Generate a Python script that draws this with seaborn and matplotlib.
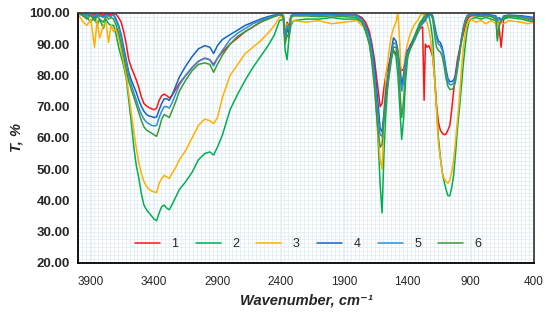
import numpy as np
import pandas as pd
import matplotlib
matplotlib.use("Agg")
import matplotlib.pyplot as plt
from matplotlib.ticker import MultipleLocator, FormatStrFormatter
import seaborn as sns

# FTIR transmittance spectra
wavenumber = [
    4000, 3960, 3930, 3900, 3870, 3850, 3830, 3800, 3780, 3760,
    3740, 3720, 3700, 3680, 3660, 3640, 3620, 3600, 3580, 3560,
    3540, 3520, 3500, 3480, 3460, 3440, 3420, 3400, 3380, 3360,
    3340, 3320, 3300, 3280, 3260, 3230, 3200, 3150, 3100, 3050,
    3000, 2960, 2930, 2900, 2860, 2800, 2740, 2680, 2620, 2560,
    2500, 2450, 2410, 2380, 2365, 2350, 2335, 2320, 2300, 2200,
    2100, 2000, 1900, 1800, 1760, 1730, 1700, 1680, 1660, 1645,
    1630, 1615, 1600, 1585, 1570, 1550, 1530, 1510, 1490, 1475,
    1460, 1445, 1430, 1415, 1400, 1380, 1360, 1340, 1320, 1300,
    1280, 1268, 1258, 1245, 1230, 1215, 1200, 1185, 1170, 1155,
    1140, 1125, 1110, 1095, 1080, 1065, 1050, 1035, 1020, 1005,
    990, 975, 960, 945, 930, 915, 900, 860, 820, 780,
    740, 700, 690, 675, 660, 640, 600, 500, 450, 400,
]

t1 = [
    100, 99.5, 99.8, 99.0, 99.6, 98.8, 99.7, 99.2, 99.8, 99.5,
    99.6, 99.8, 99.5, 98.5, 97, 94, 90, 85, 82.5, 80.5,
    78.5, 76, 73, 71, 70.2, 69.7, 69.3, 69.0, 69.5, 72,
    73.5, 74, 73.5, 72.8, 73.5, 75.5, 77.5, 80, 82.5, 84.5,
    85.5, 85, 83.5, 85.5, 87.5, 90, 92, 94, 95.5, 97,
    98.2, 99, 99.6, 99, 94, 97, 95.5, 99, 99.5, 99.5,
    99.3, 99.6, 99.2, 99.3, 98.5, 97, 94, 90, 85, 80,
    75, 70, 71, 76, 80, 83, 86, 88, 87, 86,
    83, 81.5, 82, 85, 87, 89.5, 91, 92, 93.5, 95,
    95.5, 72, 90, 89, 89.5, 88, 86, 79, 70, 65,
    62.5, 61.5, 61, 61.2, 62.5, 64, 69, 75, 80.5, 85,
    88, 90.5, 93, 95.5, 97.5, 98.5, 99, 99.3, 99, 99.4,
    99, 98.5, 98, 95, 89, 98, 99, 99, 98.5, 98,
]

t2 = [
    100, 99, 98.5, 97, 99, 96, 98, 95, 98, 96.5,
    96, 96, 93, 89, 86, 83, 79, 72, 65, 57,
    51, 47, 42, 38.5, 37, 36, 35, 34, 33.5, 36,
    38, 38.5, 37.5, 37, 38.5, 41, 43.5, 46, 49, 53,
    55, 55.5, 54.5, 57, 61, 69, 74, 78.5, 82.5, 86,
    89.5, 93, 97.5, 98, 88, 85, 92, 96, 97.5, 98,
    98, 98.5, 98, 98, 97, 94, 90, 85, 78, 70,
    58, 45, 36, 55, 68, 80, 85, 88, 86, 80,
    70, 59.5, 66, 78, 85, 89, 91, 93, 95, 97,
    98, 99, 99.5, 99.5, 99, 96, 91.5, 80, 70, 60,
    54, 49, 46, 43.5, 41.5, 41.5, 44, 48, 55, 63,
    69, 76, 83, 89, 94, 97, 98, 98.5, 98, 98.5,
    98, 97.5, 91, 96, 98, 98, 98.5, 98, 97.5, 97,
]

t3 = [
    99.5, 97, 96, 98, 89, 97.5, 92, 96, 97, 90.5,
    96, 94, 95, 92, 88, 84, 80, 74, 68, 62,
    56.5, 52, 48.5, 46, 44.5, 43.5, 43, 42.7, 42.5, 45.5,
    47, 48, 47.5, 47, 48.5, 50.5, 53, 56, 60, 64,
    66, 65.5, 64.5, 66.5, 73, 80, 83.5, 87, 89, 91,
    93.5, 96, 98.5, 99, 95, 96.5, 94, 97, 97.5, 97,
    97.5, 96.5, 97, 97.5, 96, 95, 93, 88, 80, 72,
    60, 53, 50, 66, 80, 86, 92, 95, 97, 100,
    90, 75, 80, 87, 90, 93, 95, 96.5, 97.5, 99,
    100, 99, 98, 97, 94.5, 91, 86, 79, 69, 58,
    53.5, 49, 47, 46, 45.5, 46.5, 49, 53, 59, 65.5,
    72, 81, 88, 93, 96, 97.5, 98, 97, 97.5, 96.5,
    97.5, 96.5, 97, 96, 97, 96.5, 97.5, 97, 96.5, 97,
]

t4 = [
    100, 99.6, 99, 99.5, 98.5, 99.5, 99, 98.8, 99.5, 99,
    99, 99.5, 98, 96, 93, 89, 85, 81, 78.5, 76.5,
    74.5, 72, 70, 68.5, 67.5, 67, 66.8, 66.5, 66.7, 69,
    71, 72.5, 72.5, 72, 73.5, 76.5, 79.5, 83, 86, 88.5,
    89.5, 89, 87, 89.5, 91.5, 93, 94.5, 96, 97, 98,
    98.8, 99.3, 99.7, 99.2, 91.5, 95, 93, 99, 99.5, 99.5,
    99.4, 99.5, 99.3, 99.2, 98, 96, 93, 89, 83, 77,
    70, 63, 62, 68, 75, 81, 87, 92, 91, 88,
    82, 77, 80, 85, 88, 89, 90.5, 92, 94, 96,
    97, 97.5, 98, 99, 99.5, 100, 99, 96, 93, 91,
    90.5, 89, 86, 82, 79, 78, 78, 78.5, 80, 84,
    87, 91.5, 95, 97.5, 99, 99.5, 99.5, 99.5, 99.3, 99.5,
    99.3, 99, 98, 98.5, 97.5, 99, 99.3, 99, 98.8, 98.5,
]

t5 = [
    100, 99.5, 99.2, 99.4, 98.8, 99.5, 99.2, 98.5, 99.4, 99,
    99, 99.3, 97.5, 95.5, 92, 88, 84, 80, 77, 74.5,
    72, 69.5, 67.5, 66, 65, 64.5, 64, 63.8, 64, 66.5,
    68.5, 70, 70, 69.5, 71, 74, 77, 80, 82.5, 84.5,
    85.5, 85, 83, 85.5, 88, 91.5, 93.5, 95, 96.5, 97.5,
    98.5, 99, 99.6, 99, 92.5, 96, 94.5, 99, 99.4, 99.4,
    99.3, 99.4, 99.2, 99, 97.8, 95.5, 92, 87, 80, 73,
    66, 61, 60.5, 66, 73, 79, 85, 90.5, 90, 87,
    80, 75, 78, 84, 87, 88.5, 90, 91.5, 93.5, 95.5,
    96.5, 97, 97.5, 98.5, 99, 99.5, 98.5, 95, 92, 90,
    89.5, 88, 85, 81, 78, 77, 77, 77.5, 79, 83,
    86.5, 91, 94.5, 97, 98.8, 99.3, 99.4, 99.3, 99, 99.3,
    99, 98.8, 97.5, 98.3, 97, 98.8, 99, 98.8, 98.5, 98.3,
]

t6 = [
    100, 99, 98, 99.3, 97.5, 99, 98, 97, 99, 98,
    98.5, 98, 96, 93.5, 90, 86, 82, 78, 75.5, 73,
    70.5, 68, 65.5, 63.5, 62.5, 62, 61.5, 61, 60.5, 63,
    66, 67.5, 67, 66.5, 68.5, 71.5, 75, 78.5, 81.5, 83.5,
    84, 83.5, 81, 83.5, 86.5, 90, 92.5, 94, 95.5, 97,
    98, 98.8, 99.3, 99, 90, 93, 92, 98.5, 99, 99,
    98.8, 99, 98.8, 98.5, 97, 94.5, 90, 84, 76, 68,
    62, 57, 58, 66, 72, 78, 84, 89, 89, 85,
    76, 66.5, 72, 81, 86, 88, 90, 92, 94, 96,
    97.5, 98.5, 99, 99.5, 100, 99.5, 98, 93, 89, 88,
    87.5, 86, 83, 79, 76.5, 75.5, 75.5, 76, 78, 82,
    86, 90.5, 94, 96.5, 98.5, 99, 99.2, 99, 98.8, 99,
    98.8, 98, 92, 96, 97.5, 98.5, 99, 98.5, 98, 97.5,
]

labels = ["1", "2", "3", "4", "5", "6"]
colors = ["#ff1414", "#00b050", "#ffb000", "#1565c0", "#2f8fd8", "#3a9a3a"]
x_ticks = [3900, 3400, 2900, 2400, 1900, 1400, 900, 400]

frames = []
for lab, vals in zip(labels, [t1, t2, t3, t4, t5, t6]):
    frames.append(pd.DataFrame({"wn": wavenumber, "T": vals, "sample": lab}))
df = pd.concat(frames, ignore_index=True)

sns.set_style("white")
plt.rcParams["font.family"] = ["Liberation Sans", "DejaVu Sans"]

fig = plt.figure(figsize=(5.5, 3.21), dpi=100)
ax = fig.add_axes([0.142, 0.181, 0.829, 0.779])

# fine light grid
ax.xaxis.set_minor_locator(MultipleLocator(31.25))
ax.yaxis.set_minor_locator(MultipleLocator(1.25))
ax.grid(which="both", color="#e3eef4", linewidth=0.6)
ax.set_axisbelow(True)

sns.lineplot(data=df, x="wn", y="T", hue="sample", palette=colors,
             estimator=None, linewidth=1.1, ax=ax)

ax.set_xlim(4000, 400)
ax.set_ylim(20, 100)
ax.set_xticks(x_ticks)
ax.set_yticks(np.arange(20, 101, 10))
ax.yaxis.set_major_formatter(FormatStrFormatter("%.2f"))
ax.tick_params(axis="x", which="major", direction="inout", length=7, width=1,
               labelsize=8.5, pad=6, color="black")
ax.tick_params(axis="y", which="major", direction="out", length=3, width=1,
               labelsize=9.5, pad=3, color="black")
ax.tick_params(which="minor", length=0)
for t in ax.get_yticklabels():
    t.set_fontweight("bold")

for side in ["left", "bottom"]:
    ax.spines[side].set_color("black")
    ax.spines[side].set_linewidth(1.3)
for side in ["top", "right"]:
    ax.spines[side].set_color("#404040")
    ax.spines[side].set_linewidth(1.3)

ax.set_xlabel("Wavenumber, cm\u207b\u00b9", fontsize=10.5, fontweight="bold",
              fontstyle="italic", labelpad=4)
ax.set_ylabel("T, %", fontsize=10.5, fontweight="bold", fontstyle="italic",
              labelpad=4)

ax.legend(ncol=6, loc="center", bbox_to_anchor=(0.505, 0.076), frameon=False,
          handlelength=2.0, handletextpad=0.9, columnspacing=1.4, fontsize=9)

fig.savefig("out.png", dpi=100)
